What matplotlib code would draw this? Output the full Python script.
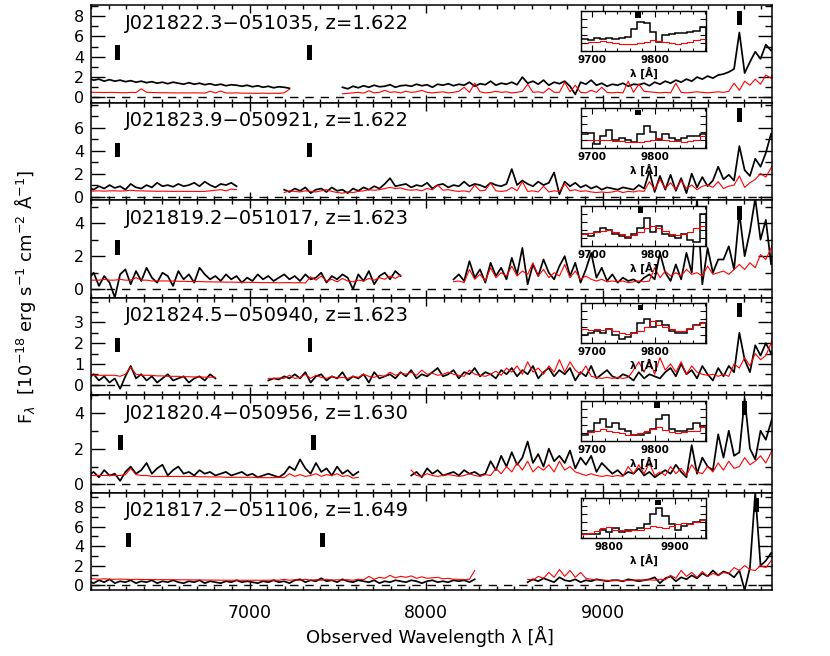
import numpy as np
import matplotlib.pyplot as plt
import matplotlib.transforms as mtransforms
from matplotlib.patches import Rectangle
from matplotlib.ticker import MultipleLocator

names = ['J021822.3\u2212051035', 'J021823.9\u2212050921', 'J021819.2\u2212051017',
         'J021824.5\u2212050940', 'J021820.4\u2212050956', 'J021817.2\u2212051106']
redshifts = [1.622, 1.622, 1.623, 1.623, 1.630, 1.649]
line_rest = [2382.8, 2798.8, 3727.4]     # FeII, MgII, [OII]

# spectra, one value every 30 A starting at 6085 A (None = no data)
wave_start = 6085.
wave_step  = 30.

p1_obj = [1.9, 1.7, 1.8, 1.6, 1.75, 1.6, 1.7, 1.55, 1.65, 1.5,
          1.6, 1.45, 1.55, 1.4, 1.5, 1.35, 1.5, 1.4, 1.3, 1.45,
          1.3, 1.4, 1.25, 1.35, 1.2, 1.3, 1.15, 1.25, 1.2, 1.1,
          1.2, 1.05, 1.15, 1.0, 1.1, 0.95, 1.05, 1.0, 0.9, None,
          None, None, None, None, None, None, None, None, 1.0, 0.85,
          1.1, 0.95, 1.15, 1.0, 1.2, 1.05, 1.1, 1.25, 1.0, 1.15,
          1.2, 1.1, 1.3, 1.15, 1.25, 1.0, 1.3, 1.2, 1.35, 1.15,
          1.3, 1.2, 1.5, 1.1, 1.35, 1.25, 1.6, 1.2, 1.4, 1.3,
          1.5, 1.25, 2.0, 1.4, 1.6, 1.3, 1.7, 1.2, 1.5, 1.35,
          1.6, 1.1, 0.3, 1.5, 1.3, 1.7, 1.2, 1.4, 1.1, 1.3,
          1.2, 1.4, 1.1, 1.3, 1.25, 1.4, 1.15, 1.5, 1.3, 1.6,
          1.4, 1.7, 1.5, 1.8, 1.6, 2.0, 1.8, 2.1, 1.9, 2.2,
          2.3, 2.5, 2.8, 6.4, 2.4, 3.5, 4.5, 3.8, 5.2, 4.6, 5.6]
p1_mod = [0.55, 0.5, 0.5, 0.48, 0.5, 0.48, 0.47, 0.46, 0.5, 0.48,
          0.85, 0.5, 0.48, 0.47, 0.46, 0.45, 0.45, 0.44, 0.45, 0.44,
          0.45, 0.44, 0.43, 0.6, 0.45, 0.62, 0.44, 0.43, 0.45, 0.42,
          0.42, 0.41, 0.4, 0.42, 0.4, 0.41, 0.4, 0.45, 0.8, None,
          None, None, None, None, None, None, None, None, 0.35, 0.4,
          0.45, 0.5, 0.42, 0.65, 0.45, 0.5, 0.7, 0.5, 0.55, 0.45,
          0.6, 0.5, 0.55, 0.7, 0.5, 0.45, 0.5, 0.55, 0.45, 0.5,
          0.6, 1.0, 0.5, 1.4, 0.55, 0.45, 0.5, 0.6, 0.5, 0.55,
          0.45, 0.5, 0.6, 1.3, 0.5, 0.55, 0.45, 0.9, 0.5, 0.5,
          1.5, 0.55, 1.2, 0.5, 0.45, 0.7, 0.5, 1.0, 0.5, 0.45,
          0.5, 0.45, 1.6, 0.5, 1.3, 0.6, 0.55, 0.5, 0.45, 0.5,
          0.45, 1.4, 0.5, 0.45, 0.5, 0.55, 0.5, 0.45, 0.5, 0.55,
          0.5, 0.6, 1.4, 0.7, 1.6, 1.2, 1.8, 1.3, 2.2, 1.9, 3.4]

p2_obj = [0.8, 0.6, 0.9, 0.7, 1.0, 0.75, 0.9, 0.6, 1.1, 0.8,
          0.7, 1.0, 0.8, 1.2, 0.9, 1.0, 0.85, 1.1, 0.9, 1.0,
          1.2, 0.9, 1.3, 1.0, 0.8, 1.1, 1.0, 1.2, 0.9, None,
          None, None, None, None, None, None, None, 0.6, 0.4, 0.7,
          0.5, 0.8, 0.3, 0.6, 0.7, 0.4, 0.8, 0.5, 0.6, 0.3,
          0.7, 0.5, 0.8, 0.6, 0.9, 0.7, 1.1, 1.6, 0.9, 1.0,
          1.1, 0.8, 1.0, 0.9, 1.2, 0.7, 1.0, 1.1, 0.8, 1.0,
          0.9, 1.3, 0.9, 1.1, 1.0, 0.8, 1.2, 1.0, 0.9, 1.1,
          2.4, 1.0, 1.4, 1.1, 0.9, 1.3, 1.0, 1.2, 2.1, 0.2,
          1.3, 0.9, 1.2, 0.8, 1.0, 0.7, 0.9, 0.6, 0.8, 0.7,
          0.6, 0.8, 0.7, 0.6, 1.0, 0.7, 2.2, 0.4, 1.8, 0.6,
          1.9, 0.5, 1.6, 0.3, 2.0, 0.8, 1.7, 0.9, 1.4, 2.6,
          1.5, 1.9, 1.4, 4.4, 2.3, 1.8, 3.3, 2.6, 3.8, 5.5, 3.9]
p2_mod = [0.5, 0.48, 0.5, 0.47, 0.5, 0.5, 0.48, 0.5, 0.55, 0.5,
          0.5, 0.48, 0.47, 0.46, 0.47, 0.46, 0.45, 0.46, 0.45, 0.45,
          0.45, 0.44, 0.45, 0.5, 0.55, 0.6, 0.5, 0.65, 0.6, None,
          None, None, None, None, None, None, None, 0.35, 0.5, 0.45,
          0.4, 0.5, 0.45, 0.4, 0.5, 0.6, 0.45, 0.35, 0.3, 0.4,
          0.35, 0.45, 0.5, 0.6, 0.55, 0.6, 0.7, 0.8, 0.7, 0.75,
          0.6, 0.55, 0.6, 0.5, 0.7, 0.6, 1.0, 0.55, 0.6, 0.5,
          0.45, 0.5, 0.4, 1.0, 0.5, 0.55, 1.2, 0.5, 0.45, 0.5,
          0.8, 0.5, 1.3, 0.45, 0.5, 0.4, 0.9, 0.4, 0.5, 0.45,
          1.1, 0.5, 0.6, 0.45, 0.5, 0.4, 0.35, 0.4, 0.35, 0.4,
          0.5, 0.35, 0.45, 0.4, 0.5, 0.45, 1.3, 0.6, 1.5, 0.7,
          1.2, 0.6, 1.4, 0.7, 1.0, 0.6, 0.9, 1.0, 0.8, 1.3,
          0.7, 0.9, 1.0, 1.8, 0.8, 1.2, 1.5, 2.0, 1.7, 2.5, 3.4]

p3_obj = [0.6, 1.0, 0.2, 0.8, 0.4, -0.5, 0.9, 1.2, 0.3, 1.1,
          0.5, 1.3, 0.7, 0.4, 1.0, 0.8, 0.2, 1.1, 0.6, 0.9,
          0.4, 1.3, 0.9, 0.6, 0.8, 0.5, 0.9, 0.6, 0.8, 0.4,
          0.7, 0.5, 0.9, 0.6, 0.8, 0.5, 0.7, 0.9, 0.6, 0.8,
          0.5, 0.9, 0.6, 0.7, 1.0, 0.4, 0.8, 0.6, 0.9, 0.7,
          0.0, 0.9, 0.5, 1.1, 0.3, 0.8, 1.0, 0.6, 1.1, 0.8,
          None, None, None, None, None, None, None, None, None, 0.6,
          0.9, 0.5, 1.7, 0.7, 1.2, 0.4, 1.6, 0.8, 1.3, 0.6,
          1.9, 0.9, 2.5, 0.3, 1.5, 0.8, 1.8, 1.0, 0.6, 1.4,
          2.0, 0.8, 1.6, 0.4, 1.2, 2.2, 0.7, 1.3, 0.5, 0.9,
          0.4, 0.7, 0.5, 0.6, 0.4, 0.7, 0.9, 0.6, 2.2, 1.0,
          0.5, 1.5, 0.6, 2.2, 1.0, 5.5, 0.3, 2.5, 1.0, 1.8,
          1.8, 2.6, 1.2, 4.6, 2.0, 3.5, 5.5, 3.0, 4.2, 1.5, 3.5]
p3_mod = [0.55, 0.55, 0.55, 0.6, 0.55, 0.55, 0.6, 0.55, 0.55, 0.7,
          0.55, 0.55, 0.5, 0.5, 0.5, 0.5, 0.5, 0.48, 0.48, 0.47,
          0.46, 0.47, 0.45, 0.45, 0.44, 0.44, 0.43, 0.43, 0.42, 0.42,
          0.42, 0.41, 0.41, 0.4, 0.4, 0.4, 0.39, 0.4, 0.4, 0.39,
          0.4, 0.38, 0.75, 0.55, 0.8, 0.5, 0.6, 0.45, 0.65, 0.5,
          0.45, 0.55, 0.5, 0.65, 0.55, 0.7, 0.6, 0.8, 0.65, 0.85,
          None, None, None, None, None, None, None, None, None, 0.45,
          0.5, 0.4, 1.2, 0.6, 0.9, 0.5, 1.3, 0.7, 1.0, 0.8,
          1.4, 0.8, 1.1, 0.9, 1.6, 0.8, 1.2, 0.7, 1.0, 0.8,
          1.5, 0.7, 1.1, 0.6, 0.8, 0.6, 0.5, 0.6, 0.45, 0.5,
          0.45, 0.5, 0.4, 0.45, 0.5, 0.45, 0.5, 1.3, 0.7, 1.1,
          0.8, 1.0, 0.8, 1.2, 0.9, 1.0, 0.8, 1.4, 0.9, 1.0,
          1.1, 0.9, 1.2, 1.5, 1.2, 1.6, 1.3, 2.1, 1.8, 2.5, 3.5]

p4_obj = [0.3, 0.5, 0.2, 0.4, 0.1, 0.3, -0.2, 0.4, 0.9, 0.3,
          0.5, 0.2, 0.4, 0.1, 0.3, 0.5, 0.2, 0.3, 0.4, 0.1,
          0.3, 0.4, 0.2, 0.5, 0.3, None, None, None, None, None,
          None, None, None, None, 0.2, 0.3, 0.25, 0.4, 0.3, 0.5,
          0.3, 0.6, 0.1, 0.4, 0.5, 0.2, 0.4, 0.3, 0.6, 0.2,
          0.4, 0.3, 0.5, 0.1, 0.6, 0.3, 0.4, 0.5, 0.3, 0.6,
          0.4, 0.7, 0.3, 0.5, 0.4, 0.6, 0.8, 0.4, 0.5, 0.7,
          0.3, 0.6, 0.5, 0.8, 0.4, 0.6, 0.5, 0.3, 0.7, 0.5,
          0.8, 0.4, 0.7, 0.5, 0.9, 0.3, 0.6, 0.8, 0.4, 0.7,
          0.5, 0.8, 0.2, 0.6, 0.4, 0.9, 0.3, 0.5, 0.7, 0.4,
          0.3, 0.5, 0.4, 0.2, 0.6, 0.3, 0.5, 0.4, 0.3, 0.6,
          0.8, 0.4, 1.0, 0.5, 0.7, 0.3, 0.9, 0.5, 0.2, 0.8,
          0.4, 0.9, 0.6, 2.5, 1.2, 0.6, 1.9, 1.4, 2.0, 1.5, 2.1]
p4_mod = [0.45, 0.45, 0.45, 0.45, 0.45, 0.45, 0.4, 0.5, 0.85, 0.5,
          0.45, 0.45, 0.45, 0.42, 0.42, 0.4, 0.4, 0.4, 0.38, 0.38,
          0.37, 0.37, 0.36, 0.36, 0.35, None, None, None, None, None,
          None, None, None, None, 0.3, 0.3, 0.32, 0.3, 0.45, 0.3,
          0.35, 0.5, 0.3, 0.45, 0.35, 0.3, 0.4, 0.32, 0.35, 0.3,
          0.4, 0.35, 0.5, 0.4, 0.35, 0.45, 0.4, 0.6, 0.45, 0.55,
          0.5, 0.6, 0.45, 0.7, 0.5, 0.55, 0.45, 0.5, 0.6, 0.5,
          0.45, 0.4, 0.7, 0.5, 0.45, 0.4, 0.5, 0.65, 0.45, 0.8,
          0.6, 0.9, 0.5, 1.1, 0.6, 0.8, 0.5, 0.9, 0.6, 1.2,
          0.6, 1.1, 0.7, 0.5, 0.9, 0.4, 0.35, 0.3, 0.35, 0.3,
          0.35, 0.3, 0.35, 0.7, 1.1, 0.6, 1.2, 0.5, 1.3, 0.7,
          1.0, 0.6, 1.1, 0.5, 0.9, 0.6, 0.5, 0.45, 0.5, 0.4,
          0.5, 0.4, 1.0, 0.8, 1.3, 0.9, 1.5, 1.2, 1.4, 2.0, 3.3]

p5_obj = [0.5, 0.7, 0.4, 0.8, 0.5, 0.6, 0.2, 0.7, 1.0, 0.6,
          0.8, 1.2, 0.6, 0.9, 1.1, 0.5, 0.8, 1.0, 0.6, 0.7,
          0.5, 0.8, 0.6, 0.7, 0.5, 0.6, 0.7, 0.5, 0.6, 0.7,
          0.5, 0.6, 0.4, 0.5, 0.6, 0.5, 0.4, 0.6, 1.0, 0.8,
          1.4, 0.9, 0.6, 1.2, 0.7, 0.9, 0.5, 1.0, 0.6, 0.8,
          0.5, 0.7, None, None, None, None, None, None, None, None,
          None, 0.5, 0.7, 0.4, 0.9, 0.6, 0.8, 0.5, 0.6, 0.7,
          0.5, 0.8, 0.6, 0.7, 0.5, 0.6, 1.3, 0.8, 1.6, 1.0,
          1.8, 1.1, 1.5, 2.4, 1.2, 1.7, 1.0, 2.0, 1.3, 1.6,
          1.2, 1.9, 0.9, 1.5, 1.1, 1.6, 0.7, 1.2, 0.9, 0.6,
          0.8, 0.5, 0.7, 0.6, 0.9, 0.5, 0.7, 0.4, 0.6, 0.8,
          0.6, 1.1, 0.7, 0.4, 2.2, 0.6, 1.5, 1.0, 0.8, 2.8,
          1.5, 3.0, 1.6, 1.8, 4.8, 2.0, 1.4, 3.0, 2.5, 3.5, 4.5]
p5_mod = [0.5, 0.5, 0.5, 0.5, 0.5, 0.5, 0.5, 0.55, 0.9, 0.55,
          0.5, 0.5, 0.45, 0.45, 0.45, 0.45, 0.45, 0.45, 0.45, 0.45,
          0.45, 0.43, 0.43, 0.42, 0.42, 0.42, 0.4, 0.4, 0.4, 0.4,
          0.4, 0.4, 0.38, 0.38, 0.38, 0.38, 0.4, 0.38, 0.6, 0.45,
          0.55, 0.45, 0.5, 0.6, 0.45, 0.55, 0.5, 0.6, 0.45, 0.5,
          0.35, 0.4, None, None, None, None, None, None, None, None,
          None, 0.8, 0.5, 0.45, 0.6, 0.5, 0.45, 0.5, 0.55, 0.5,
          0.45, 0.5, 0.6, 0.5, 0.45, 0.55, 0.5, 0.9, 0.6, 1.0,
          0.7, 1.2, 0.8, 1.3, 0.7, 1.0, 0.8, 1.1, 0.7, 1.3,
          0.8, 1.0, 0.7, 0.6, 0.5, 0.6, 0.5, 0.45, 0.5, 0.45,
          0.5, 0.45, 1.0, 0.6, 1.1, 0.6, 1.2, 0.5, 0.7, 0.5,
          1.0, 0.6, 0.9, 0.5, 1.1, 0.7, 0.6, 1.0, 0.7, 1.2,
          0.8, 1.3, 0.9, 1.0, 1.5, 1.1, 1.3, 1.6, 1.2, 1.8, 2.8]

p6_obj = [0.4, 0.2, 0.5, 0.3, 0.6, 0.2, 0.4, 0.3, 0.5, 0.2,
          0.4, 0.3, 0.5, 0.2, 0.4, 0.3, 0.5, 0.3, 0.2, 0.4,
          0.3, 0.5, 0.2, 0.4, 0.3, 0.2, 0.4, 0.3, 0.5, 0.3,
          0.4, 0.3, 0.2, 0.4, 0.3, 0.5, 0.3, 0.4, 0.2, 0.5,
          0.6, 0.3, 0.5, 0.4, 0.7, 0.4, 0.5, 0.3, 0.6, 0.4,
          0.3, 0.5, 0.4, 0.3, 0.5, 0.2, 0.4, 0.3, 0.5, 0.4,
          0.3, 0.5, 0.4, 0.2, 0.4, 0.5, 0.3, 0.4, 0.3, 0.5,
          0.4, 0.5, 0.3, 0.6, None, None, None, None, None, None,
          None, None, None, 0.3, 0.6, 0.4, 0.7, 0.5, 0.3, 0.8,
          0.5, 0.4, 0.6, 0.3, 0.5, 0.4, 0.6, 0.5, 0.4, 0.5,
          0.5, 0.4, 0.6, 0.5, 0.4, 0.5, 0.6, 0.8, 0.2, 0.7,
          0.9, 0.4, 0.8, 0.6, 1.0, 0.7, 1.2, 0.9, 1.5, 1.0,
          1.4, 1.2, 0.8, 1.5, -0.5, 1.8, 9.5, 2.0, 2.5, 3.3, 2.8]
p6_mod = [0.65, 0.65, 0.6, 0.65, 0.6, 0.6, 0.62, 0.6, 0.58, 0.6,
          0.58, 0.57, 0.57, 0.56, 0.56, 0.55, 0.55, 0.55, 0.54, 0.54,
          0.53, 0.53, 0.52, 0.52, 0.52, 0.51, 0.5, 0.5, 0.5, 0.5,
          0.5, 0.5, 0.5, 0.5, 0.5, 0.52, 0.5, 0.6, 0.5, 0.55,
          0.5, 0.6, 0.5, 0.55, 0.5, 0.6, 0.5, 0.55, 0.5, 0.55,
          0.5, 0.6, 0.55, 0.9, 0.6, 0.8, 0.7, 1.0, 0.75, 0.9,
          0.8, 0.95, 0.7, 0.85, 0.7, 0.75, 0.8, 0.65, 0.7, 0.6,
          0.6, 0.55, 0.6, 1.5, None, None, None, None, None, None,
          None, None, None, 0.6, 0.5, 0.9, 0.7, 1.3, 0.8, 1.6,
          0.9, 1.5, 0.8, 1.3, 0.7, 0.6, 0.55, 0.5, 0.5, 0.45,
          0.5, 0.45, 0.5, 0.5, 0.55, 0.5, 0.55, 0.5, 0.6, 0.55,
          1.0, 0.7, 1.5, 0.9, 1.3, 0.8, 1.4, 0.9, 1.2, 1.0,
          1.3, 1.2, 1.8, 1.5, 2.0, 1.6, 1.5, 2.0, 1.8, 2.5, 3.0]

# zoom-in around [OII]: 20 bins, relative flux
inset_range = [(9683, 9881)] * 5 + [(9758, 9947)]
in1_obj = [0.30, 0.28, 0.32, 0.30, 0.33, 0.30, 0.32, 0.34, 0.55, 0.72, 0.70, 0.48, 0.22, 0.40, 0.42, 0.45, 0.44, 0.47, 0.50, 0.60]
in1_mod = [0.20, 0.22, 0.22, 0.24, 0.22, 0.20, 0.18, 0.17, 0.18, 0.20, 0.22, 0.28, 0.25, 0.22, 0.20, 0.18, 0.20, 0.22, 0.28, 0.30]
in2_obj = [0.35, 0.38, 0.10, 0.30, 0.45, 0.20, 0.25, 0.20, 0.15, 0.35, 0.55, 0.40, 0.20, 0.35, 0.25, 0.20, 0.25, 0.30, 0.30, 0.35]
in2_mod = [0.20, 0.20, 0.22, 0.20, 0.20, 0.18, 0.18, 0.16, 0.15, 0.16, 0.18, 0.20, 0.25, 0.22, 0.18, 0.18, 0.17, 0.18, 0.20, 0.30]
in3_obj = [0.30, 0.25, 0.35, 0.45, 0.40, 0.30, 0.25, 0.20, 0.30, 0.45, 0.70, 0.35, 0.50, 0.30, 0.25, 0.20, 0.30, 0.15, 0.10, 0.80]
in3_mod = [0.30, 0.33, 0.35, 0.38, 0.40, 0.35, 0.30, 0.25, 0.28, 0.35, 0.45, 0.50, 0.45, 0.38, 0.30, 0.28, 0.30, 0.35, 0.45, 0.50]
in4_obj = [0.20, 0.25, 0.30, 0.25, 0.35, 0.20, 0.10, 0.15, 0.25, 0.50, 0.60, 0.40, 0.55, 0.45, 0.30, 0.25, 0.25, 0.35, 0.45, 0.50]
in4_mod = [0.35, 0.33, 0.35, 0.34, 0.35, 0.30, 0.25, 0.23, 0.25, 0.30, 0.40, 0.55, 0.45, 0.40, 0.35, 0.30, 0.32, 0.38, 0.45, 0.50]
in5_obj = [0.15, 0.25, 0.45, 0.55, 0.35, 0.45, 0.30, 0.25, 0.15, 0.15, 0.20, 0.30, 0.55, 0.65, 0.30, 0.25, 0.25, 0.30, 0.45, 0.35]
in5_mod = [0.20, 0.22, 0.25, 0.30, 0.25, 0.22, 0.20, 0.15, 0.17, 0.20, 0.25, 0.30, 0.35, 0.28, 0.22, 0.20, 0.22, 0.25, 0.25, 0.35]
in6_obj = [0.10, 0.10, 0.12, 0.20, 0.15, 0.25, 0.15, 0.20, 0.22, 0.25, 0.35, 0.60, 0.75, 0.55, 0.35, 0.20, 0.30, 0.35, 0.40, 0.45]
in6_mod = [0.12, 0.13, 0.18, 0.25, 0.28, 0.22, 0.20, 0.18, 0.20, 0.22, 0.25, 0.30, 0.28, 0.25, 0.30, 0.35, 0.38, 0.35, 0.40, 0.45]

ylims  = [(-0.5, 9.1), (-0.3, 8.2), (-0.5, 5.4), (-0.5, 4.2), (-0.45, 5.0), (-0.5, 9.5)]
yticks = [[0, 2, 4, 6, 8], [0, 2, 4, 6], [0, 2, 4], [0, 1, 2, 3], [0, 2, 4], [0, 2, 4, 6, 8]]
yminor = [1, 1, 1, 0.5, 1, 1]

objs = [p1_obj, p2_obj, p3_obj, p4_obj, p5_obj, p6_obj]
mods = [p1_mod, p2_mod, p3_mod, p4_mod, p5_mod, p6_mod]
in_objs = [in1_obj, in2_obj, in3_obj, in4_obj, in5_obj, in6_obj]
in_mods = [in1_mod, in2_mod, in3_mod, in4_mod, in5_mod, in6_mod]

fig = plt.figure(figsize=(8.3, 6.56), dpi=100)
W, H = 830., 656.
top_px, pan_px = 5., 97.5

for k in range(6):
    bot = 1 - (top_px + pan_px * (k + 1)) / H
    ax = fig.add_axes([91 / W, bot, 681 / W, pan_px / H])
    obj = np.array(objs[k], dtype=float)
    mod = np.array(mods[k], dtype=float)
    wave = wave_start + wave_step * np.arange(len(obj))
    z = redshifts[k]

    ax.plot(wave, obj, color='k', lw=1.25)
    ax.plot(wave, mod, color='#ff0000', lw=0.8)
    ax.axhline(0, color='k', lw=1.0, ls=(0, (6, 5)))

    trans = mtransforms.blended_transform_factory(ax.transData, ax.transAxes)
    for j, lr in enumerate(line_rest):
        lo = 0.795 if j == 2 else 0.44
        ax.add_patch(Rectangle((lr * (1 + z) - 14, lo), 28, 0.145,
                               transform=trans, color='k', lw=0))

    ax.text(0.05, 0.815, '%s, z=%.3f' % (names[k], z), transform=ax.transAxes,
            fontsize=14, va='center', ha='left')

    ax.set_xlim(6100, 9960)
    ax.set_ylim(*ylims[k])
    ax.set_yticks(yticks[k])
    ax.yaxis.set_minor_locator(MultipleLocator(yminor[k]))
    ax.xaxis.set_major_locator(MultipleLocator(1000))
    ax.xaxis.set_minor_locator(MultipleLocator(100))
    ax.tick_params(which='both', direction='in', top=True, right=True, width=1)
    ax.tick_params(axis='y', which='major', length=10, labelsize=11.5, pad=5)
    ax.tick_params(axis='y', which='minor', length=5)
    ax.tick_params(axis='x', which='major', length=6, labelsize=12.5, pad=10)
    ax.tick_params(axis='x', which='minor', length=3)
    if k < 5:
        ax.tick_params(axis='x', labelbottom=False)
    for s in ax.spines.values():
        s.set_linewidth(1.1)

    # inset around [OII]
    lo_in, hi_in = inset_range[k]
    edges = np.linspace(lo_in, hi_in, len(in_objs[k]) + 1)
    axin = ax.inset_axes([0.72, 0.53, 0.183, 0.41])
    axin.stairs(in_objs[k], edges, color='k', lw=1.1)
    axin.stairs(in_mods[k], edges, color='#ff0000', lw=0.8)
    axin.add_patch(Rectangle((line_rest[2] * (1 + z) - 4.5, 0.83), 9, 0.13, color='k', lw=0))
    axin.set_xlim(lo_in, hi_in)
    axin.set_ylim(0, 1)
    tk = [9700, 9800] if k < 5 else [9800, 9900]
    axin.set_xticks(tk, labels=[str(t) for t in tk], fontsize=7.5, fontweight='bold')
    axin.xaxis.set_minor_locator(MultipleLocator(20))
    axin.yaxis.set_major_locator(MultipleLocator(0.2))
    axin.yaxis.set_minor_locator(MultipleLocator(0.2))
    axin.set_yticklabels([])
    axin.tick_params(which='both', direction='in', top=True, right=True, width=0.8)
    axin.tick_params(which='major', length=4, pad=3)
    axin.tick_params(which='minor', length=2.5)
    axin.set_xlabel('\u03bb [\u00c5]', fontsize=7.5, fontweight='bold', labelpad=1)
    for s in axin.spines.values():
        s.set_linewidth(1.0)

fig.text(0.518, 0.03, 'Observed Wavelength \u03bb [\u00c5]', fontsize=13, ha='center', va='center')
fig.text(0.03, 0.547, r'F$_\lambda$  [10$^{-18}$ erg s$^{-1}$ cm$^{-2}$ $\mathrm{\AA}^{-1}$]',
         fontsize=13, rotation=90, ha='center', va='center')

plt.savefig('out.png', dpi=100)
